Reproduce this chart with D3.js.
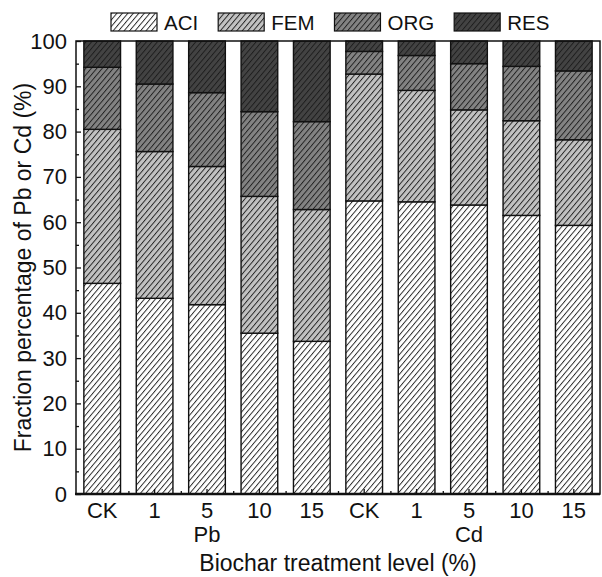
<!DOCTYPE html>
<html>
<head>
<meta charset="utf-8">
<script src="https://cdn.jsdelivr.net/npm/d3@7/dist/d3.min.js"></script>
<style>
  html, body { margin: 0; padding: 0; background: #fff; }
  svg { display: block; font-family: "Liberation Sans", Arial, sans-serif; }
</style>
</head>
<body>
<div id="chart"></div>
<script>
// data (percent of total, per fraction)
var categories = ["CK", "1", "5", "10", "15", "CK", "1", "5", "10", "15"];
var groupLabels = ["Pb", "Cd"];
var groupAt = [2, 7];   // which category the group label sits under
var fractions = ["ACI", "FEM", "ORG", "RES"];
var ACI = [46.5, 43.2, 41.8, 35.5, 33.7, 64.7, 64.5, 63.8, 61.5, 59.3];
var FEM = [34.0, 32.4, 30.5, 30.2, 29.1, 28.0, 24.6, 21.0, 20.9, 18.9];
var ORG = [13.7, 14.9, 16.3, 18.7, 19.4, 5.0, 7.7, 10.2, 12.0, 15.2];
var RES = [5.8, 9.5, 11.4, 15.6, 17.8, 2.3, 3.2, 5.0, 5.6, 6.6];
var yTicks = [0, 10, 20, 30, 40, 50, 60, 70, 80, 90, 100];

var fills = { ACI: "#ffffff", FEM: "#c2c2c2", ORG: "#838383", RES: "#434343" };

var width = 602, height = 577;
var plotL = 76, plotR = 600, plotT = 41, plotB = 494;

var svg = d3.select("#chart").append("svg")
  .attr("width", width).attr("height", height);

var defs = svg.append("defs");
fractions.forEach(function(f) {
  var p = defs.append("pattern")
    .attr("id", "hatch-" + f)
    .attr("patternUnits", "userSpaceOnUse")
    .attr("width", 4.2).attr("height", 10)
    .attr("patternTransform", "rotate(40)");
  p.append("rect").attr("width", 4.2).attr("height", 10).attr("fill", fills[f]);
  p.append("line").attr("x1", 0.5).attr("x2", 0.5).attr("y1", 0).attr("y2", 10)
    .attr("stroke", "#1a1a1a").attr("stroke-width", 0.9);
});

var rows = categories.map(function(c, i) {
  return { ACI: ACI[i], FEM: FEM[i], ORG: ORG[i], RES: RES[i], i: i };
});
var stack = d3.stack().keys(fractions)(rows);

var x = d3.scaleBand().domain(d3.range(categories.length))
  .range([plotL, plotR]).paddingInner(0.3).paddingOuter(0.15);
var y = d3.scaleLinear().domain([0, 100]).range([plotB, plotT]);

// bars
svg.append("g").selectAll("g").data(stack).enter().append("g")
  .attr("fill", function(d) { return "url(#hatch-" + d.key + ")"; })
  .selectAll("rect").data(function(d) { return d; }).enter().append("rect")
  .attr("x", function(d) { return x(d.data.i); })
  .attr("width", x.bandwidth())
  .attr("y", function(d) { return y(d[1]); })
  .attr("height", function(d) { return y(d[0]) - y(d[1]); })
  .attr("stroke", "#111").attr("stroke-width", 1.4);

// frame
svg.append("rect")
  .attr("x", plotL).attr("y", plotT)
  .attr("width", plotR - plotL).attr("height", plotB - plotT)
  .attr("fill", "none").attr("stroke", "#111").attr("stroke-width", 1.5);

// y axis, major + minor ticks pointing inward
svg.append("g").attr("transform", "translate(" + plotL + ",0)")
  .call(d3.axisLeft(y).tickValues(yTicks).tickSize(-5).tickPadding(9));
svg.append("g").attr("transform", "translate(" + plotL + ",0)")
  .call(d3.axisLeft(y).tickValues(d3.range(5, 100, 10)).tickSize(-3).tickFormat(""));

// x axis
svg.append("g").attr("transform", "translate(0," + plotB + ")")
  .call(d3.axisBottom(x).tickSize(-5).tickPadding(8)
    .tickFormat(function(i) { return categories[i]; }));
var xb = d3.scaleLinear().domain([0, categories.length]).range([plotL, plotR]);
svg.append("g").attr("transform", "translate(0," + plotB + ")")
  .call(d3.axisBottom(xb).tickValues(d3.range(1, categories.length)).tickSize(-3).tickFormat(""));

svg.selectAll(".domain").remove();
svg.selectAll(".tick line").attr("stroke", "#111").attr("stroke-width", 1.3);
svg.selectAll(".tick text").attr("font-size", 22).attr("fill", "#111")
  .attr("font-family", "Liberation Sans, Arial, sans-serif");

// thicker bottom axis line
svg.append("line").attr("x1", plotL - 1).attr("x2", plotR)
  .attr("y1", plotB).attr("y2", plotB)
  .attr("stroke", "#111").attr("stroke-width", 2.4);

// group labels
svg.append("g").selectAll("text").data(groupLabels).enter().append("text")
  .attr("x", function(d, k) { return x(groupAt[k]) + x.bandwidth() / 2; })
  .attr("y", 542)
  .attr("text-anchor", "middle").attr("font-size", 22).attr("fill", "#111")
  .text(function(d) { return d; });

// axis titles
svg.append("text")
  .attr("x", (plotL + plotR) / 2).attr("y", 571)
  .attr("text-anchor", "middle").attr("font-size", 23).attr("fill", "#111")
  .text("Biochar treatment level (%)");

svg.append("text")
  .attr("transform", "translate(31," + ((plotT + plotB) / 2) + ") rotate(-90)")
  .attr("text-anchor", "middle").attr("font-size", 23).attr("fill", "#111")
  .text("Fraction percentage of Pb or Cd (%)");

// legend, entries laid out by their text width
var lg = svg.append("g").attr("transform", "translate(111,13)");
var cursor = 0;
fractions.forEach(function(f) {
  var g = lg.append("g").attr("transform", "translate(" + cursor + ",0)");
  g.append("rect").attr("width", 46).attr("height", 18)
    .attr("fill", "url(#hatch-" + f + ")")
    .attr("stroke", "#111").attr("stroke-width", 1.2);
  var t = g.append("text").attr("x", 53).attr("y", 16.5)
    .attr("font-size", 20.5).attr("fill", "#111").text(f);
  cursor += 53 + t.node().getComputedTextLength() + 20;
});
</script>
</body>
</html>
